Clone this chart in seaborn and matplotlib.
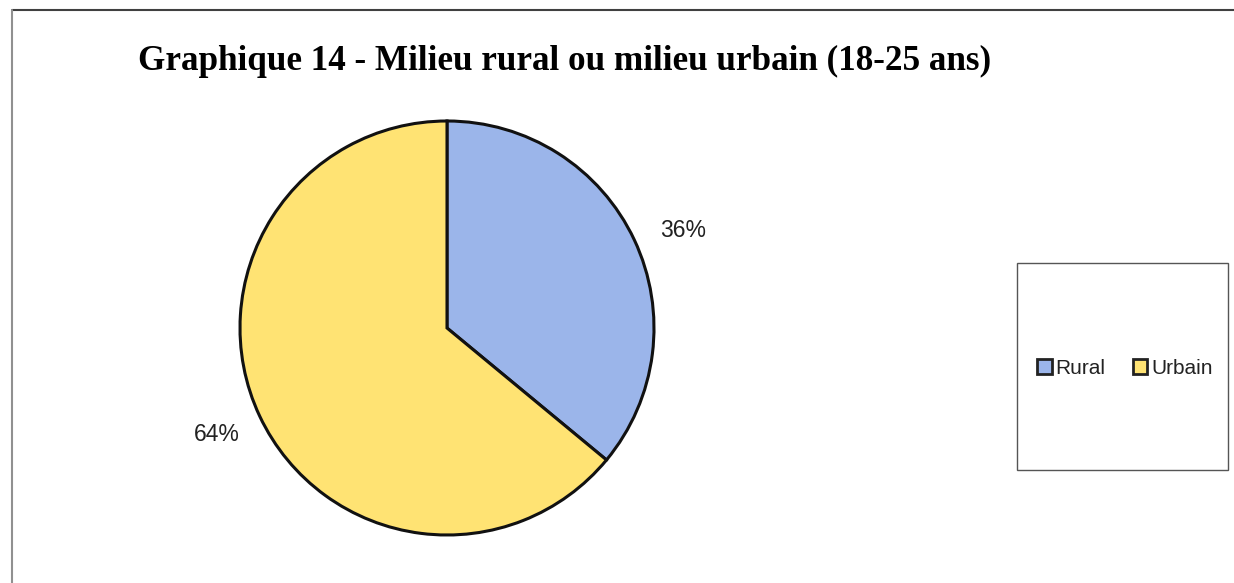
import matplotlib
matplotlib.use("Agg")
import matplotlib.pyplot as plt
import seaborn as sns
from matplotlib.patches import Rectangle, Patch
from matplotlib.lines import Line2D

categories = ["Rural", "Urbain"]
values = [36, 64]
colors = ["#9BB5EA", "#FFE373"]
title = "Graphique 14 - Milieu rural ou milieu urbain (18-25 ans)"

sns.set_theme(style="white")
plt.rcParams['font.family'] = ['Liberation Sans', 'DejaVu Sans']

W, H = 1234, 583
fig = plt.figure(figsize=(W / 100, H / 100), dpi=100)
fig.patch.set_facecolor("white")

# outer frame (top and left edges visible)
fig.add_artist(Line2D([12 / W, 1], [1 - 10 / H, 1 - 10 / H], color="#404040", lw=1.5, transform=fig.transFigure))
fig.add_artist(Line2D([12 / W, 12 / W], [0, 1 - 10 / H], color="#909090", lw=1.5, transform=fig.transFigure))

cx, cy, r = 447, 328, 207
ax = fig.add_axes([(cx - r) / W, (H - cy - r) / H, 2 * r / W, 2 * r / H])
wedges, texts, autotexts = ax.pie(
    values, colors=sns.color_palette(colors), startangle=90, counterclock=False,
    autopct=lambda p: f"{p:.0f}%", pctdistance=1.25,
    wedgeprops=dict(edgecolor="#111111", linewidth=2.2),
    textprops=dict(fontsize=16.5, color="#222222"))
# Excel places the first label a little lower along the rim
x0, y0 = autotexts[0].get_position()
autotexts[0].set_position((x0 + 0.01, y0 - 0.06))
x1, y1 = autotexts[1].get_position()
autotexts[1].set_position((x1 + 0.02, y1 + 0.02))
ax.set_xlim(-1, 1)
ax.set_ylim(-1, 1)
ax.set_aspect("equal")
ax.axis("off")

fig.text(565 / W, 1 - 61 / H, title, ha="center", va="center", fontsize=25.3,
         fontweight="bold", family=["Liberation Serif", "DejaVu Serif"], color="black")

# legend box
fig.add_artist(Rectangle((1017 / W, 1 - 470 / H), (1228 - 1017) / W, (470 - 263) / H,
                         transform=fig.transFigure, fill=False, edgecolor="#555555", lw=1))
handles = [Patch(facecolor=c, edgecolor="#222222", linewidth=2) for c in colors]
fig.legend(handles, categories, loc="center", bbox_to_anchor=(1125 / W, 1 - 368 / H),
           ncol=2, frameon=False, fontsize=15, handlelength=0.7, handleheight=0.7,
           handletextpad=0.2, columnspacing=1.3, labelcolor="#222222")

fig.savefig("out.png", dpi=100, facecolor="white")
